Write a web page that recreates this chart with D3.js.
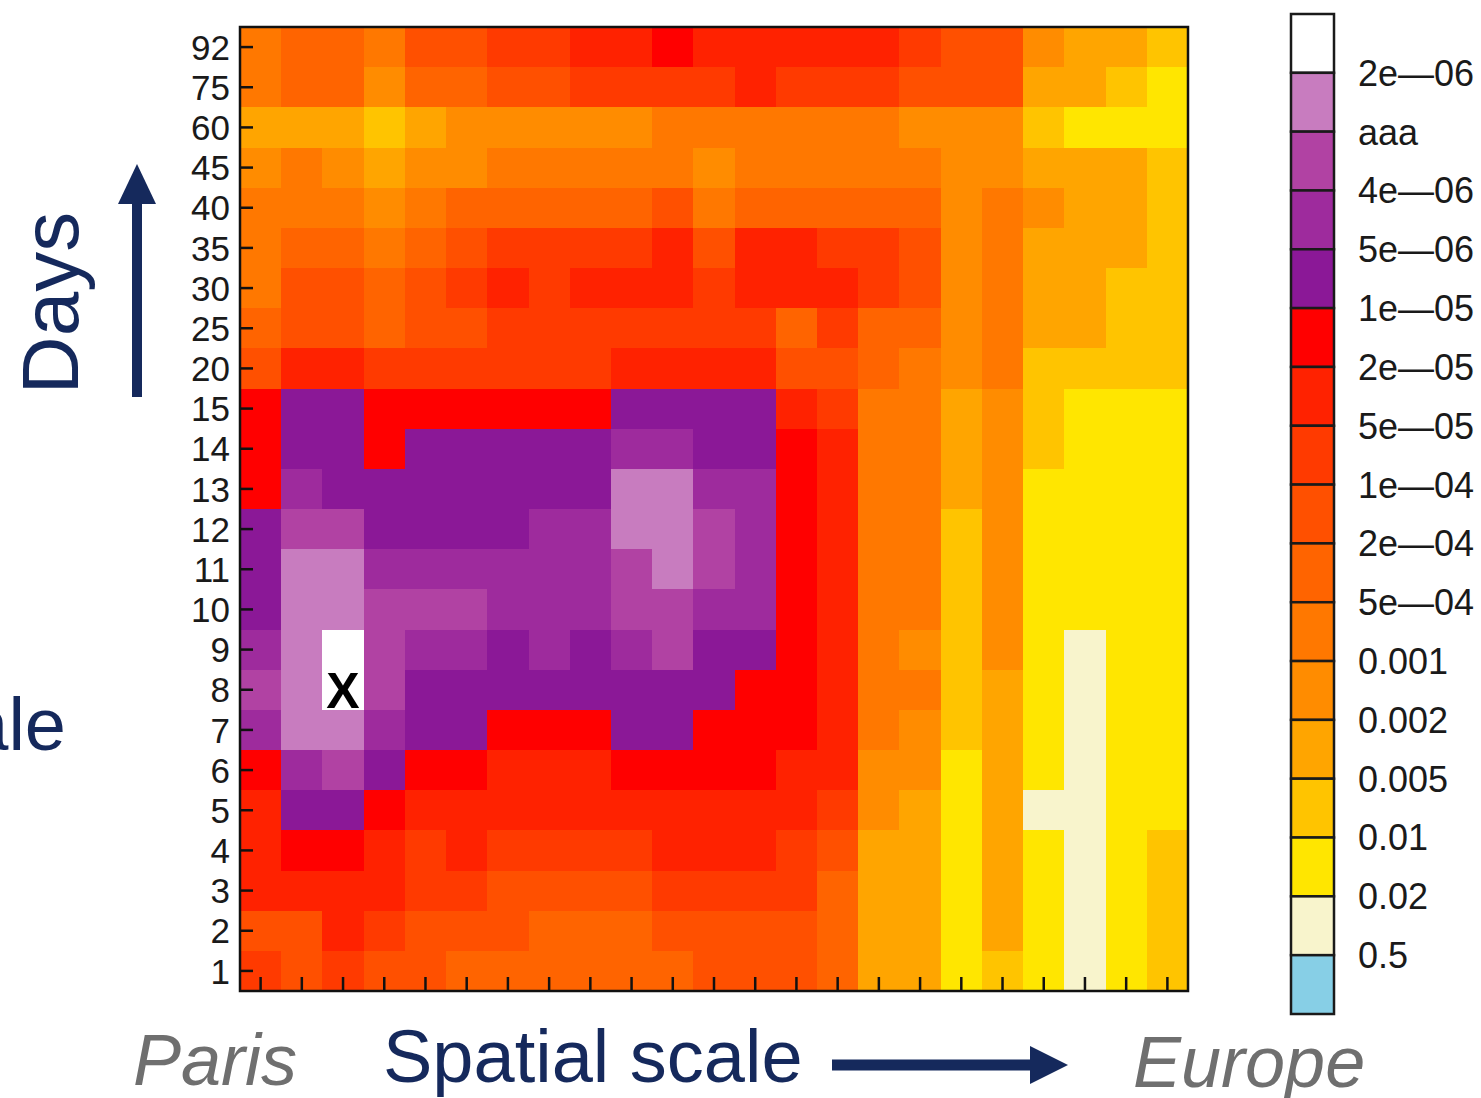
<!DOCTYPE html>
<html>
<head>
<meta charset="utf-8">
<script src="https://cdn.jsdelivr.net/npm/d3@7"></script>
<style>
  body { margin: 0; background: #ffffff; }
  svg text { font-family: "Liberation Sans", Arial, Helvetica, sans-serif; }
</style>
</head>
<body>
<svg id="chart" width="1481" height="1098"></svg>
<script>
// Day rows, top to bottom
const days = ["92","75","60","45","40","35","30","25","20","15","14","13","12",
              "11","10","9","8","7","6","5","4","3","2","1"];

// Spatial scale steps, Paris (left) to Europe (right)
const spatialSteps = [1,2,3,4,5,6,7,8,9,10,11,12,13,14,15,16,17,18,19,20,21,22,23];

// Colour classes of the key, top to bottom
const palette = ["#ffffff","#c87cbf","#b142a3","#9e2b9d","#8b1897",
                 "#ff0000","#ff2200","#ff3a00","#ff5000","#ff6400",
                 "#ff7800","#ff8c00","#ffa500","#ffc400","#ffe600",
                 "#f8f4cc","#87cfe6"];

// Class boundary labels of the key
const legendLabels = ["2e\u201406","aaa","4e\u201406","5e\u201406","1e\u201405",
                      "2e\u201405","5e\u201405","1e\u201404","2e\u201404","5e\u201404",
                      "0.001","0.002","0.005","0.01","0.02","0.5"];

// Class of each cell, one row per day (same order as `days`)
const cellLevels = [
  [10,9,9,10,8,8,7,7,6,6,5,6, 6,6,6,6,7,8,8,11,12,12,13],
  [10,9,9,11,9,9,8,8,7,7,7,7, 6,7,7,7,8,8,8,12,12,13,14],
  [12,12,12,13,12,11,11,11,11,11,10,10, 10,10,10,10,11,11,11,13,14,14,14],
  [11,10,11,12,11,11,10,10,10,10,10,11, 10,10,10,10,10,11,11,12,12,12,13],
  [10,10,10,11,10,9,9,9,9,9,8,10, 9,9,9,9,9,11,10,11,12,12,13],
  [10,9,9,10,9,8,7,7,7,7,6,8, 6,6,7,7,8,11,10,12,12,12,13],
  [10,8,8,9,8,7,6,7,6,6,6,7, 6,6,6,7,8,11,10,12,12,13,13],
  [9,8,8,9,8,8,7,7,7,7,7,7, 7,9,7,9,9,11,10,12,12,13,13],
  [8,6,6,7,7,7,7,7,7,6,6,6, 6,8,8,9,10,11,10,13,13,13,13],
  [5,4,4,5,5,5,5,5,5,4,4,4, 4,6,7,10,10,12,11,13,14,14,14],
  [5,4,4,5,4,4,4,4,4,3,3,4, 4,5,6,10,10,12,11,13,14,14,14],
  [5,3,4,4,4,4,4,4,4,1,1,3, 3,5,6,10,10,12,11,14,14,14,14],
  [4,2,2,4,4,4,4,3,3,1,1,2, 3,5,6,10,10,13,11,14,14,14,14],
  [4,1,1,3,3,3,3,3,3,2,1,2, 3,5,6,10,10,13,11,14,14,14,14],
  [4,1,1,2,2,2,3,3,3,2,2,3, 3,5,6,10,10,13,11,14,14,14,14],
  [3,1,0,2,3,3,4,3,4,3,2,4, 4,5,6,10,11,13,11,14,15,14,14],
  [2,1,0,2,4,4,4,4,4,4,4,4, 5,5,6,10,10,13,12,14,15,14,14],
  [3,1,1,3,4,4,5,5,5,4,4,5, 5,5,6,10,11,13,12,14,15,14,14],
  [5,3,2,4,5,5,6,6,6,5,5,5, 5,6,6,11,11,14,12,14,15,14,14],
  [6,4,4,5,6,6,6,6,6,6,6,6, 6,6,7,11,12,14,12,15,15,14,14],
  [6,5,5,6,7,6,7,7,7,7,6,6, 6,7,8,12,12,14,12,14,15,14,13],
  [6,6,6,6,7,7,8,8,8,8,7,7, 7,7,9,12,12,14,12,14,15,14,13],
  [8,8,6,7,8,8,8,9,9,9,8,8, 8,8,9,12,12,14,12,14,15,14,13],
  [7,8,7,8,8,9,9,9,9,9,9,8, 8,8,9,12,12,14,13,14,15,14,13]
];

// Marked origin cell
const marker = { step: 3, day: "8", label: "X" };

const navy = "#15295c";
const grey = "#6f6f6f";

const svg = d3.select("#chart");

const plot = { left: 240, right: 1188, top: 27, bottom: 991 };

const x = d3.scaleBand().domain(spatialSteps).range([plot.left, plot.right]);
const y = d3.scaleBand().domain(days).range([plot.top, plot.bottom]);
const color = d3.scaleOrdinal().domain(d3.range(palette.length)).range(palette);

// Heatmap cells
const cells = [];
cellLevels.forEach((row, ri) => row.forEach((lv, ci) => cells.push({ day: days[ri], step: spatialSteps[ci], level: lv })));

svg.append("g")
  .selectAll("rect")
  .data(cells)
  .join("rect")
  .attr("x", d => x(d.step))
  .attr("y", d => y(d.day))
  .attr("width", x.bandwidth() + 0.6)
  .attr("height", y.bandwidth() + 0.6)
  .attr("fill", d => color(d.level))
  .attr("shape-rendering", "crispEdges");

// Marker on the origin cell
svg.append("text")
  .attr("x", x(marker.step) + x.bandwidth() / 2)
  .attr("y", y(marker.day) + y.bandwidth() / 2 + 18)
  .attr("text-anchor", "middle")
  .attr("font-size", 50)
  .attr("font-weight", "bold")
  .attr("fill", "#000")
  .text(marker.label);

// Y axis with inward ticks
const yAxis = svg.append("g")
  .attr("transform", `translate(${plot.left},0)`)
  .call(d3.axisLeft(y).tickSize(-13).tickPadding(10));
yAxis.select(".domain").remove();
yAxis.selectAll(".tick line").attr("stroke", "#111").attr("stroke-width", 2.5);
yAxis.selectAll(".tick text")
  .attr("font-size", 35)
  .attr("fill", "#1a1a1a")
  .attr("font-family", "Liberation Sans, Arial, sans-serif")
  .attr("dy", "0.36em");

// X axis with inward ticks
const xAxis = svg.append("g")
  .attr("transform", `translate(0,${plot.bottom})`)
  .call(d3.axisBottom(x).tickSize(-14).tickFormat(""));
xAxis.select(".domain").remove();
xAxis.selectAll(".tick line").attr("stroke", "#111").attr("stroke-width", 2.5);

// Plot frame
svg.append("rect")
  .attr("x", plot.left).attr("y", plot.top)
  .attr("width", plot.right - plot.left).attr("height", plot.bottom - plot.top)
  .attr("fill", "none").attr("stroke", "#111").attr("stroke-width", 2.5);

// Colour key
const key = { x: 1291, w: 43, top: 14, bottom: 1014 };
const kb = d3.scaleLinear().domain([0, palette.length]).range([key.top, key.bottom]);

svg.append("g")
  .selectAll("rect")
  .data(palette)
  .join("rect")
  .attr("x", key.x)
  .attr("y", (d, i) => kb(i))
  .attr("width", key.w)
  .attr("height", (d, i) => kb(i + 1) - kb(i))
  .attr("fill", d => d)
  .attr("stroke", "#1a1a1a")
  .attr("stroke-width", 2.5);

svg.append("g")
  .selectAll("text")
  .data(legendLabels)
  .join("text")
  .attr("x", 1358)
  .attr("y", (d, i) => kb(i + 1))
  .attr("dy", "0.36em")
  .attr("font-size", 36)
  .attr("fill", "#1a1a1a")
  .text(d => d);

// Axis titles and arrows
svg.append("text")
  .attr("transform", "translate(78,303) rotate(-90)")
  .attr("text-anchor", "middle")
  .attr("font-size", 80)
  .attr("fill", navy)
  .text("Days");

svg.append("line")
  .attr("x1", 137).attr("y1", 397).attr("x2", 137).attr("y2", 200)
  .attr("stroke", navy).attr("stroke-width", 10);
svg.append("path")
  .attr("d", d3.line()([[118, 204], [156, 204], [137, 164]]) + "Z")
  .attr("fill", navy);

svg.append("text")
  .attr("x", 66).attr("y", 750)
  .attr("text-anchor", "end")
  .attr("font-size", 74)
  .attr("fill", navy)
  .text("ale");

svg.append("text")
  .attr("x", 133).attr("y", 1085)
  .attr("font-size", 72)
  .attr("font-style", "italic")
  .attr("fill", grey)
  .text("Paris");

svg.append("text")
  .attr("x", 383).attr("y", 1082)
  .attr("font-size", 74)
  .attr("fill", navy)
  .text("Spatial scale");

svg.append("line")
  .attr("x1", 832).attr("y1", 1065).attr("x2", 1034).attr("y2", 1065)
  .attr("stroke", navy).attr("stroke-width", 11);
svg.append("path")
  .attr("d", d3.line()([[1030, 1046], [1030, 1084], [1068, 1065]]) + "Z")
  .attr("fill", navy);

svg.append("text")
  .attr("x", 1133).attr("y", 1087)
  .attr("font-size", 72)
  .attr("font-style", "italic")
  .attr("fill", grey)
  .text("Europe");
</script>
</body>
</html>
